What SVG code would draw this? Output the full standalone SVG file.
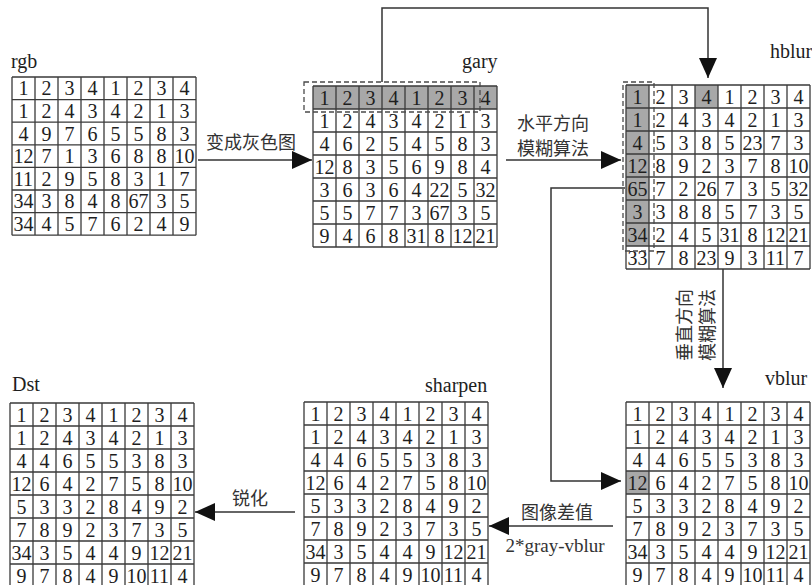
<svg xmlns="http://www.w3.org/2000/svg" width="812" height="585" viewBox="0 0 812 585">
<style>
.bg{fill:#fff}
.grid{fill:none;stroke:#3a3a3a;stroke-width:1.3}
.sh{fill:#a8a8a8}
.n{font-family:"Liberation Serif",serif;font-size:20px;text-anchor:middle;fill:#1e1e1e}
.lbl{font-family:"Liberation Serif",serif;font-size:20px;fill:#1e1e1e}
.cjk{font-family:"Liberation Serif","Noto Sans CJK SC",sans-serif;font-size:18px;text-anchor:middle;fill:#333}
.con{fill:none;stroke:#333;stroke-width:1.5}
.dash{fill:none;stroke:#4a4a4a;stroke-width:1.3;stroke-dasharray:5 3}
</style>
<defs>
<marker id="ah" markerUnits="userSpaceOnUse" markerWidth="20" markerHeight="18" viewBox="0 0 20 18" refX="20" refY="9" orient="auto"><path d="M0,0 L20,9 L0,18 z" fill="#111"/></marker>
</defs>
<rect class="bg" x="0" y="0" width="812" height="585"/>

<g id="connectors">
<path class="con" d="M198,160 H312" marker-end="url(#ah)"/>
<path class="con" d="M506,160 H621" marker-end="url(#ah)"/>
<path class="con" d="M382,82 V8 H708 V78" marker-end="url(#ah)"/>
<path class="con" d="M723,269 V388" marker-end="url(#ah)"/>
<path class="con" d="M625,188 H551 V481 H621" marker-end="url(#ah)"/>
<path class="con" d="M613,526 H489" marker-end="url(#ah)"/>
<path class="con" d="M295,512 H195" marker-end="url(#ah)"/>
<text class="cjk" x="251" y="149">变成灰色图</text>
<text class="cjk" x="553" y="130">水平方向</text>
<text class="cjk" x="553" y="155">模糊算法</text>
<g transform="translate(696,325) rotate(-90)">
<text class="cjk" x="0" y="-5">垂直方向</text>
<text class="cjk" x="0" y="18">模糊算法</text>
</g>
<text class="cjk" x="557" y="519">图像差值</text>
<text class="cjk" x="555" y="552" style="font-size:19px">2*gray-vblur</text>
<text class="cjk" x="250" y="505">锐化</text>
</g>

<g id="rgb">
<text class="lbl" x="11" y="68">rgb</text>
<g transform="translate(12,77)">
<path class="grid" d="M0,0 H184 M0,22.6 H184 M0,45.2 H184 M0,67.8 H184 M0,90.4 H184 M0,113 H184 M0,135.6 H184 M0,158.2 H184 M0,0 V158.2 M23,0 V158.2 M46,0 V158.2 M69,0 V158.2 M92,0 V158.2 M115,0 V158.2 M138,0 V158.2 M161,0 V158.2 M184,0 V158.2"/>
<text class="n" x="11.5" y="18.3">1</text><text class="n" x="34.5" y="18.3">2</text><text class="n" x="57.5" y="18.3">3</text><text class="n" x="80.5" y="18.3">4</text><text class="n" x="103.5" y="18.3">1</text><text class="n" x="126.5" y="18.3">2</text><text class="n" x="149.5" y="18.3">3</text><text class="n" x="172.5" y="18.3">4</text>
<text class="n" x="11.5" y="40.9">1</text><text class="n" x="34.5" y="40.9">2</text><text class="n" x="57.5" y="40.9">4</text><text class="n" x="80.5" y="40.9">3</text><text class="n" x="103.5" y="40.9">4</text><text class="n" x="126.5" y="40.9">2</text><text class="n" x="149.5" y="40.9">1</text><text class="n" x="172.5" y="40.9">3</text>
<text class="n" x="11.5" y="63.5">4</text><text class="n" x="34.5" y="63.5">9</text><text class="n" x="57.5" y="63.5">7</text><text class="n" x="80.5" y="63.5">6</text><text class="n" x="103.5" y="63.5">5</text><text class="n" x="126.5" y="63.5">5</text><text class="n" x="149.5" y="63.5">8</text><text class="n" x="172.5" y="63.5">3</text>
<text class="n" x="11.5" y="86.1">12</text><text class="n" x="34.5" y="86.1">7</text><text class="n" x="57.5" y="86.1">1</text><text class="n" x="80.5" y="86.1">3</text><text class="n" x="103.5" y="86.1">6</text><text class="n" x="126.5" y="86.1">8</text><text class="n" x="149.5" y="86.1">8</text><text class="n" x="172.5" y="86.1">10</text>
<text class="n" x="11.5" y="108.7">11</text><text class="n" x="34.5" y="108.7">2</text><text class="n" x="57.5" y="108.7">9</text><text class="n" x="80.5" y="108.7">5</text><text class="n" x="103.5" y="108.7">8</text><text class="n" x="126.5" y="108.7">3</text><text class="n" x="149.5" y="108.7">1</text><text class="n" x="172.5" y="108.7">7</text>
<text class="n" x="11.5" y="131.3">34</text><text class="n" x="34.5" y="131.3">3</text><text class="n" x="57.5" y="131.3">8</text><text class="n" x="80.5" y="131.3">4</text><text class="n" x="103.5" y="131.3">8</text><text class="n" x="126.5" y="131.3">67</text><text class="n" x="149.5" y="131.3">3</text><text class="n" x="172.5" y="131.3">5</text>
<text class="n" x="11.5" y="153.9">34</text><text class="n" x="34.5" y="153.9">4</text><text class="n" x="57.5" y="153.9">5</text><text class="n" x="80.5" y="153.9">7</text><text class="n" x="103.5" y="153.9">6</text><text class="n" x="126.5" y="153.9">2</text><text class="n" x="149.5" y="153.9">4</text><text class="n" x="172.5" y="153.9">9</text>
</g>
</g>

<g id="gary">
<text class="lbl" x="462" y="68">gary</text>
<g transform="translate(313,86)">
<rect class="sh" x="0" y="0" width="184" height="23"/>
<path class="grid" d="M0,0 H184 M0,23 H184 M0,46 H184 M0,69 H184 M0,92 H184 M0,115 H184 M0,138 H184 M0,161 H184 M0,0 V161 M23,0 V161 M46,0 V161 M69,0 V161 M92,0 V161 M115,0 V161 M138,0 V161 M161,0 V161 M184,0 V161"/>
<text class="n" x="11.5" y="18.5">1</text><text class="n" x="34.5" y="18.5">2</text><text class="n" x="57.5" y="18.5">3</text><text class="n" x="80.5" y="18.5">4</text><text class="n" x="103.5" y="18.5">1</text><text class="n" x="126.5" y="18.5">2</text><text class="n" x="149.5" y="18.5">3</text><text class="n" x="172.5" y="18.5">4</text>
<text class="n" x="11.5" y="41.5">1</text><text class="n" x="34.5" y="41.5">2</text><text class="n" x="57.5" y="41.5">4</text><text class="n" x="80.5" y="41.5">3</text><text class="n" x="103.5" y="41.5">4</text><text class="n" x="126.5" y="41.5">2</text><text class="n" x="149.5" y="41.5">1</text><text class="n" x="172.5" y="41.5">3</text>
<text class="n" x="11.5" y="64.5">4</text><text class="n" x="34.5" y="64.5">6</text><text class="n" x="57.5" y="64.5">2</text><text class="n" x="80.5" y="64.5">5</text><text class="n" x="103.5" y="64.5">4</text><text class="n" x="126.5" y="64.5">5</text><text class="n" x="149.5" y="64.5">8</text><text class="n" x="172.5" y="64.5">3</text>
<text class="n" x="11.5" y="87.5">12</text><text class="n" x="34.5" y="87.5">8</text><text class="n" x="57.5" y="87.5">3</text><text class="n" x="80.5" y="87.5">5</text><text class="n" x="103.5" y="87.5">6</text><text class="n" x="126.5" y="87.5">9</text><text class="n" x="149.5" y="87.5">8</text><text class="n" x="172.5" y="87.5">4</text>
<text class="n" x="11.5" y="110.5">3</text><text class="n" x="34.5" y="110.5">6</text><text class="n" x="57.5" y="110.5">3</text><text class="n" x="80.5" y="110.5">6</text><text class="n" x="103.5" y="110.5">4</text><text class="n" x="126.5" y="110.5">22</text><text class="n" x="149.5" y="110.5">5</text><text class="n" x="172.5" y="110.5">32</text>
<text class="n" x="11.5" y="133.5">5</text><text class="n" x="34.5" y="133.5">5</text><text class="n" x="57.5" y="133.5">7</text><text class="n" x="80.5" y="133.5">7</text><text class="n" x="103.5" y="133.5">3</text><text class="n" x="126.5" y="133.5">67</text><text class="n" x="149.5" y="133.5">3</text><text class="n" x="172.5" y="133.5">5</text>
<text class="n" x="11.5" y="156.5">9</text><text class="n" x="34.5" y="156.5">4</text><text class="n" x="57.5" y="156.5">6</text><text class="n" x="80.5" y="156.5">8</text><text class="n" x="103.5" y="156.5">31</text><text class="n" x="126.5" y="156.5">8</text><text class="n" x="149.5" y="156.5">12</text><text class="n" x="172.5" y="156.5">21</text>
</g>
<rect class="dash" x="304" y="82" width="176" height="30"/>
</g>

<g id="hblur">
<text class="lbl" x="770" y="58">hblur</text>
<g transform="translate(626,85)">
<rect class="sh" x="0" y="0" width="23" height="161"/>
<rect class="sh" x="69" y="0" width="23" height="23"/>
<path class="grid" d="M0,0 H184 M0,23 H184 M0,46 H184 M0,69 H184 M0,92 H184 M0,115 H184 M0,138 H184 M0,161 H184 M0,184 H184 M0,0 V184 M23,0 V184 M46,0 V184 M69,0 V184 M92,0 V184 M115,0 V184 M138,0 V184 M161,0 V184 M184,0 V184"/>
<text class="n" x="11.5" y="18.5">1</text><text class="n" x="34.5" y="18.5">2</text><text class="n" x="57.5" y="18.5">3</text><text class="n" x="80.5" y="18.5">4</text><text class="n" x="103.5" y="18.5">1</text><text class="n" x="126.5" y="18.5">2</text><text class="n" x="149.5" y="18.5">3</text><text class="n" x="172.5" y="18.5">4</text>
<text class="n" x="11.5" y="41.5">1</text><text class="n" x="34.5" y="41.5">2</text><text class="n" x="57.5" y="41.5">4</text><text class="n" x="80.5" y="41.5">3</text><text class="n" x="103.5" y="41.5">4</text><text class="n" x="126.5" y="41.5">2</text><text class="n" x="149.5" y="41.5">1</text><text class="n" x="172.5" y="41.5">3</text>
<text class="n" x="11.5" y="64.5">4</text><text class="n" x="34.5" y="64.5">5</text><text class="n" x="57.5" y="64.5">3</text><text class="n" x="80.5" y="64.5">8</text><text class="n" x="103.5" y="64.5">5</text><text class="n" x="126.5" y="64.5">23</text><text class="n" x="149.5" y="64.5">7</text><text class="n" x="172.5" y="64.5">3</text>
<text class="n" x="11.5" y="87.5">12</text><text class="n" x="34.5" y="87.5">8</text><text class="n" x="57.5" y="87.5">9</text><text class="n" x="80.5" y="87.5">2</text><text class="n" x="103.5" y="87.5">3</text><text class="n" x="126.5" y="87.5">7</text><text class="n" x="149.5" y="87.5">8</text><text class="n" x="172.5" y="87.5">10</text>
<text class="n" x="11.5" y="110.5">65</text><text class="n" x="34.5" y="110.5">7</text><text class="n" x="57.5" y="110.5">2</text><text class="n" x="80.5" y="110.5">26</text><text class="n" x="103.5" y="110.5">7</text><text class="n" x="126.5" y="110.5">3</text><text class="n" x="149.5" y="110.5">5</text><text class="n" x="172.5" y="110.5">32</text>
<text class="n" x="11.5" y="133.5">3</text><text class="n" x="34.5" y="133.5">3</text><text class="n" x="57.5" y="133.5">8</text><text class="n" x="80.5" y="133.5">8</text><text class="n" x="103.5" y="133.5">5</text><text class="n" x="126.5" y="133.5">7</text><text class="n" x="149.5" y="133.5">3</text><text class="n" x="172.5" y="133.5">5</text>
<text class="n" x="11.5" y="156.5">34</text><text class="n" x="34.5" y="156.5">2</text><text class="n" x="57.5" y="156.5">4</text><text class="n" x="80.5" y="156.5">5</text><text class="n" x="103.5" y="156.5">31</text><text class="n" x="126.5" y="156.5">8</text><text class="n" x="149.5" y="156.5">12</text><text class="n" x="172.5" y="156.5">21</text>
<text class="n" x="11.5" y="179.5">33</text><text class="n" x="34.5" y="179.5">7</text><text class="n" x="57.5" y="179.5">8</text><text class="n" x="80.5" y="179.5">23</text><text class="n" x="103.5" y="179.5">9</text><text class="n" x="126.5" y="179.5">3</text><text class="n" x="149.5" y="179.5">11</text><text class="n" x="172.5" y="179.5">7</text>
</g>
<rect class="dash" x="623" y="82" width="31" height="169"/>
</g>

<g id="vblur">
<text class="lbl" x="765" y="385">vblur</text>
<g transform="translate(626,402)">
<rect class="sh" x="0" y="69" width="23" height="23"/>
<path class="grid" d="M0,0 H184 M0,23 H184 M0,46 H184 M0,69 H184 M0,92 H184 M0,115 H184 M0,138 H184 M0,161 H184 M0,184 H184 M0,0 V184 M23,0 V184 M46,0 V184 M69,0 V184 M92,0 V184 M115,0 V184 M138,0 V184 M161,0 V184 M184,0 V184"/>
<text class="n" x="11.5" y="18.5">1</text><text class="n" x="34.5" y="18.5">2</text><text class="n" x="57.5" y="18.5">3</text><text class="n" x="80.5" y="18.5">4</text><text class="n" x="103.5" y="18.5">1</text><text class="n" x="126.5" y="18.5">2</text><text class="n" x="149.5" y="18.5">3</text><text class="n" x="172.5" y="18.5">4</text>
<text class="n" x="11.5" y="41.5">1</text><text class="n" x="34.5" y="41.5">2</text><text class="n" x="57.5" y="41.5">4</text><text class="n" x="80.5" y="41.5">3</text><text class="n" x="103.5" y="41.5">4</text><text class="n" x="126.5" y="41.5">2</text><text class="n" x="149.5" y="41.5">1</text><text class="n" x="172.5" y="41.5">3</text>
<text class="n" x="11.5" y="64.5">4</text><text class="n" x="34.5" y="64.5">4</text><text class="n" x="57.5" y="64.5">6</text><text class="n" x="80.5" y="64.5">5</text><text class="n" x="103.5" y="64.5">5</text><text class="n" x="126.5" y="64.5">3</text><text class="n" x="149.5" y="64.5">8</text><text class="n" x="172.5" y="64.5">3</text>
<text class="n" x="11.5" y="87.5">12</text><text class="n" x="34.5" y="87.5">6</text><text class="n" x="57.5" y="87.5">4</text><text class="n" x="80.5" y="87.5">2</text><text class="n" x="103.5" y="87.5">7</text><text class="n" x="126.5" y="87.5">5</text><text class="n" x="149.5" y="87.5">8</text><text class="n" x="172.5" y="87.5">10</text>
<text class="n" x="11.5" y="110.5">5</text><text class="n" x="34.5" y="110.5">3</text><text class="n" x="57.5" y="110.5">3</text><text class="n" x="80.5" y="110.5">2</text><text class="n" x="103.5" y="110.5">8</text><text class="n" x="126.5" y="110.5">4</text><text class="n" x="149.5" y="110.5">9</text><text class="n" x="172.5" y="110.5">2</text>
<text class="n" x="11.5" y="133.5">7</text><text class="n" x="34.5" y="133.5">8</text><text class="n" x="57.5" y="133.5">9</text><text class="n" x="80.5" y="133.5">2</text><text class="n" x="103.5" y="133.5">3</text><text class="n" x="126.5" y="133.5">7</text><text class="n" x="149.5" y="133.5">3</text><text class="n" x="172.5" y="133.5">5</text>
<text class="n" x="11.5" y="156.5">34</text><text class="n" x="34.5" y="156.5">3</text><text class="n" x="57.5" y="156.5">5</text><text class="n" x="80.5" y="156.5">4</text><text class="n" x="103.5" y="156.5">4</text><text class="n" x="126.5" y="156.5">9</text><text class="n" x="149.5" y="156.5">12</text><text class="n" x="172.5" y="156.5">21</text>
<text class="n" x="11.5" y="179.5">9</text><text class="n" x="34.5" y="179.5">7</text><text class="n" x="57.5" y="179.5">8</text><text class="n" x="80.5" y="179.5">4</text><text class="n" x="103.5" y="179.5">9</text><text class="n" x="126.5" y="179.5">10</text><text class="n" x="149.5" y="179.5">11</text><text class="n" x="172.5" y="179.5">4</text>
</g>
</g>

<g id="sharpen">
<text class="lbl" x="425" y="392">sharpen</text>
<g transform="translate(304,402)">
<path class="grid" d="M0,0 H184 M0,23 H184 M0,46 H184 M0,69 H184 M0,92 H184 M0,115 H184 M0,138 H184 M0,161 H184 M0,184 H184 M0,0 V184 M23,0 V184 M46,0 V184 M69,0 V184 M92,0 V184 M115,0 V184 M138,0 V184 M161,0 V184 M184,0 V184"/>
<text class="n" x="11.5" y="18.5">1</text><text class="n" x="34.5" y="18.5">2</text><text class="n" x="57.5" y="18.5">3</text><text class="n" x="80.5" y="18.5">4</text><text class="n" x="103.5" y="18.5">1</text><text class="n" x="126.5" y="18.5">2</text><text class="n" x="149.5" y="18.5">3</text><text class="n" x="172.5" y="18.5">4</text>
<text class="n" x="11.5" y="41.5">1</text><text class="n" x="34.5" y="41.5">2</text><text class="n" x="57.5" y="41.5">4</text><text class="n" x="80.5" y="41.5">3</text><text class="n" x="103.5" y="41.5">4</text><text class="n" x="126.5" y="41.5">2</text><text class="n" x="149.5" y="41.5">1</text><text class="n" x="172.5" y="41.5">3</text>
<text class="n" x="11.5" y="64.5">4</text><text class="n" x="34.5" y="64.5">4</text><text class="n" x="57.5" y="64.5">6</text><text class="n" x="80.5" y="64.5">5</text><text class="n" x="103.5" y="64.5">5</text><text class="n" x="126.5" y="64.5">3</text><text class="n" x="149.5" y="64.5">8</text><text class="n" x="172.5" y="64.5">3</text>
<text class="n" x="11.5" y="87.5">12</text><text class="n" x="34.5" y="87.5">6</text><text class="n" x="57.5" y="87.5">4</text><text class="n" x="80.5" y="87.5">2</text><text class="n" x="103.5" y="87.5">7</text><text class="n" x="126.5" y="87.5">5</text><text class="n" x="149.5" y="87.5">8</text><text class="n" x="172.5" y="87.5">10</text>
<text class="n" x="11.5" y="110.5">5</text><text class="n" x="34.5" y="110.5">3</text><text class="n" x="57.5" y="110.5">3</text><text class="n" x="80.5" y="110.5">2</text><text class="n" x="103.5" y="110.5">8</text><text class="n" x="126.5" y="110.5">4</text><text class="n" x="149.5" y="110.5">9</text><text class="n" x="172.5" y="110.5">2</text>
<text class="n" x="11.5" y="133.5">7</text><text class="n" x="34.5" y="133.5">8</text><text class="n" x="57.5" y="133.5">9</text><text class="n" x="80.5" y="133.5">2</text><text class="n" x="103.5" y="133.5">3</text><text class="n" x="126.5" y="133.5">7</text><text class="n" x="149.5" y="133.5">3</text><text class="n" x="172.5" y="133.5">5</text>
<text class="n" x="11.5" y="156.5">34</text><text class="n" x="34.5" y="156.5">3</text><text class="n" x="57.5" y="156.5">5</text><text class="n" x="80.5" y="156.5">4</text><text class="n" x="103.5" y="156.5">4</text><text class="n" x="126.5" y="156.5">9</text><text class="n" x="149.5" y="156.5">12</text><text class="n" x="172.5" y="156.5">21</text>
<text class="n" x="11.5" y="179.5">9</text><text class="n" x="34.5" y="179.5">7</text><text class="n" x="57.5" y="179.5">8</text><text class="n" x="80.5" y="179.5">4</text><text class="n" x="103.5" y="179.5">9</text><text class="n" x="126.5" y="179.5">10</text><text class="n" x="149.5" y="179.5">11</text><text class="n" x="172.5" y="179.5">4</text>
</g>
</g>

<g id="Dst">
<text class="lbl" x="12" y="391">Dst</text>
<g transform="translate(10,403)">
<path class="grid" d="M0,0 H184 M0,23 H184 M0,46 H184 M0,69 H184 M0,92 H184 M0,115 H184 M0,138 H184 M0,161 H184 M0,184 H184 M0,0 V184 M23,0 V184 M46,0 V184 M69,0 V184 M92,0 V184 M115,0 V184 M138,0 V184 M161,0 V184 M184,0 V184"/>
<text class="n" x="11.5" y="18.5">1</text><text class="n" x="34.5" y="18.5">2</text><text class="n" x="57.5" y="18.5">3</text><text class="n" x="80.5" y="18.5">4</text><text class="n" x="103.5" y="18.5">1</text><text class="n" x="126.5" y="18.5">2</text><text class="n" x="149.5" y="18.5">3</text><text class="n" x="172.5" y="18.5">4</text>
<text class="n" x="11.5" y="41.5">1</text><text class="n" x="34.5" y="41.5">2</text><text class="n" x="57.5" y="41.5">4</text><text class="n" x="80.5" y="41.5">3</text><text class="n" x="103.5" y="41.5">4</text><text class="n" x="126.5" y="41.5">2</text><text class="n" x="149.5" y="41.5">1</text><text class="n" x="172.5" y="41.5">3</text>
<text class="n" x="11.5" y="64.5">4</text><text class="n" x="34.5" y="64.5">4</text><text class="n" x="57.5" y="64.5">6</text><text class="n" x="80.5" y="64.5">5</text><text class="n" x="103.5" y="64.5">5</text><text class="n" x="126.5" y="64.5">3</text><text class="n" x="149.5" y="64.5">8</text><text class="n" x="172.5" y="64.5">3</text>
<text class="n" x="11.5" y="87.5">12</text><text class="n" x="34.5" y="87.5">6</text><text class="n" x="57.5" y="87.5">4</text><text class="n" x="80.5" y="87.5">2</text><text class="n" x="103.5" y="87.5">7</text><text class="n" x="126.5" y="87.5">5</text><text class="n" x="149.5" y="87.5">8</text><text class="n" x="172.5" y="87.5">10</text>
<text class="n" x="11.5" y="110.5">5</text><text class="n" x="34.5" y="110.5">3</text><text class="n" x="57.5" y="110.5">3</text><text class="n" x="80.5" y="110.5">2</text><text class="n" x="103.5" y="110.5">8</text><text class="n" x="126.5" y="110.5">4</text><text class="n" x="149.5" y="110.5">9</text><text class="n" x="172.5" y="110.5">2</text>
<text class="n" x="11.5" y="133.5">7</text><text class="n" x="34.5" y="133.5">8</text><text class="n" x="57.5" y="133.5">9</text><text class="n" x="80.5" y="133.5">2</text><text class="n" x="103.5" y="133.5">3</text><text class="n" x="126.5" y="133.5">7</text><text class="n" x="149.5" y="133.5">3</text><text class="n" x="172.5" y="133.5">5</text>
<text class="n" x="11.5" y="156.5">34</text><text class="n" x="34.5" y="156.5">3</text><text class="n" x="57.5" y="156.5">5</text><text class="n" x="80.5" y="156.5">4</text><text class="n" x="103.5" y="156.5">4</text><text class="n" x="126.5" y="156.5">9</text><text class="n" x="149.5" y="156.5">12</text><text class="n" x="172.5" y="156.5">21</text>
<text class="n" x="11.5" y="179.5">9</text><text class="n" x="34.5" y="179.5">7</text><text class="n" x="57.5" y="179.5">8</text><text class="n" x="80.5" y="179.5">4</text><text class="n" x="103.5" y="179.5">9</text><text class="n" x="126.5" y="179.5">10</text><text class="n" x="149.5" y="179.5">11</text><text class="n" x="172.5" y="179.5">4</text>
</g>
</g>
</svg>
